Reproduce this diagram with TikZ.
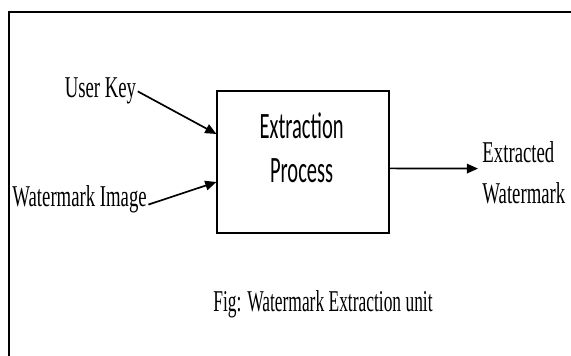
\documentclass[tikz,border=0pt]{standalone}
\usepackage{fontspec}
\setmainfont{Liberation Serif}[FakeStretch=0.62]
\newfontfamily\procfont{Carlito}[FakeStretch=0.55]
\usetikzlibrary{arrows.meta}

\begin{document}
\begin{tikzpicture}[every node/.append style={font=\fontsize{21.5}{29.2}\selectfont,inner sep=3pt},
    procbox/.style={draw,thick,rectangle,minimum width=4.3cm,minimum height=3.55cm},
    flow/.style={-{Triangle[length=2.8mm,width=2.4mm]},very thick}]
      \useasboundingbox (0,0) rectangle (14.275,8.9);
      \draw [thick] (0.225,0)--(0.225,8.6)--(14.275,8.6);

      \node[procbox] (Proc) at (7.575,4.85) {};
      \node[font=\procfont\fontsize{26.5}{31.3}\selectfont,align=center] (ProcText) at (7.54,5.2) {Extraction\\Process};

      \node[anchor=base,inner sep=1pt] (UserKey) at (2.51,6.45) {User Key};
      \node[anchor=base,inner sep=1pt] (WmImage) at (1.99,3.725) {Watermark Image};
      \node[anchor=west,align=left] (ExtWm) at (11.95,4.575) {Extracted\\Watermark};
      \node[anchor=base] (Caption) at (8.075,1.1) {\scalebox{0.93}[1]{Fig: Watermark Extraction unit}};

      \draw [flow] (UserKey.east)--([yshift=0.7cm]Proc.west);
      \draw [flow] ([yshift=-0.12cm]WmImage.east)--([yshift=-0.5cm]Proc.west);
      \draw [flow] ([yshift=-0.16cm]Proc.east)--([yshift=0.11cm]ExtWm.west);
    \end{tikzpicture}
\end{document}
